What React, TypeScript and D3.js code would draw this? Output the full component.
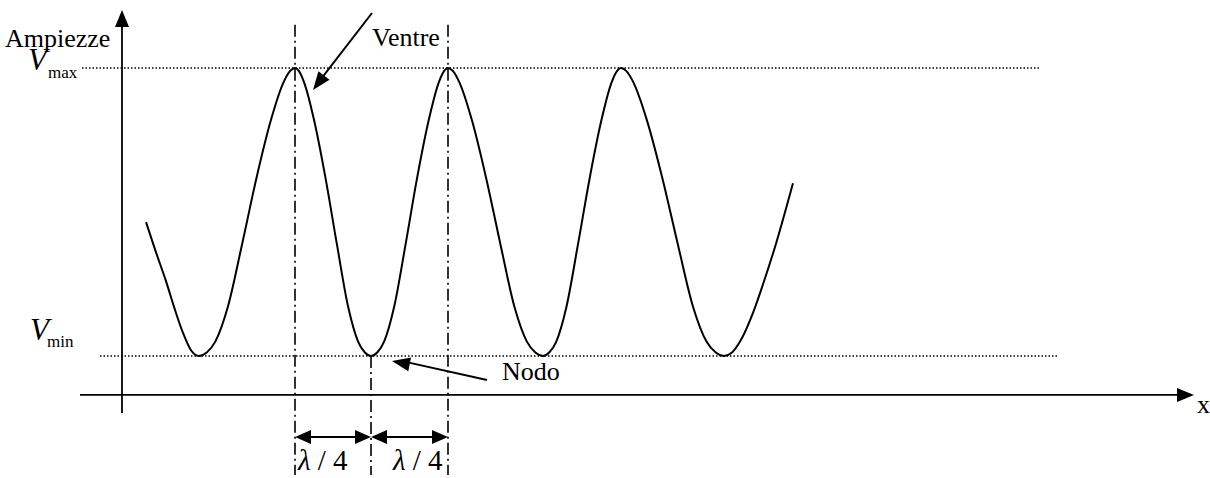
import React from "react";
import * as d3 from "d3";

// Curve samples (x in arbitrary position units, y normalised: 0 = Vmin, 1 = Vmax)
const curveX = [
  2.4, 3.4, 4.4, 5.3, 6.1, 6.9, 7.7,
  8.47, 9.33, 10.58, 12.02, 13.46, 14.9, 16.15, 16.82, 17.3,
  17.68, 18.21, 19.2, 20.34, 21.48, 22.62, 23.61, 24.29, 24.9,
  25.52, 26.21, 27.21, 28.37, 29.52, 30.68, 31.68, 32.22, 32.6,
  33.08, 33.74, 34.98, 36.4, 37.83, 39.25, 40.49, 41.34, 42.1,
  42.72, 43.43, 44.44, 45.61, 46.78, 47.95, 48.96, 49.51, 49.9,
  50.42, 51.14, 52.48, 54.02, 55.57, 57.11, 58.45, 59.38, 60.2,
  61.0, 61.8, 63.1, 64.3, 65.4, 67.1,
];
const curveY = [
  0.465, 0.36, 0.26, 0.16, 0.08, 0.02, 0,
  0.012, 0.05, 0.17, 0.39, 0.62, 0.82, 0.95, 0.99, 1,
  0.99, 0.95, 0.82, 0.62, 0.39, 0.17, 0.05, 0.012, 0,
  0.012, 0.05, 0.17, 0.39, 0.62, 0.82, 0.95, 0.99, 1,
  0.99, 0.95, 0.82, 0.62, 0.39, 0.17, 0.05, 0.012, 0,
  0.012, 0.05, 0.17, 0.39, 0.62, 0.82, 0.95, 0.99, 1,
  0.99, 0.95, 0.82, 0.62, 0.39, 0.17, 0.05, 0.012, 0,
  0.012, 0.05, 0.15, 0.27, 0.39, 0.6,
];

// Reference positions
const ventri = [17.3, 32.6]; // antinodes marked
const nodo = 24.9; // node marked
const vmaxLine = [-4.0, 91.9];
const vminLine = [-2.2, 93.5];
const xAxisExtent = [-4.2, 107.2];
const yAxisExtent = [-0.198, 1.201];
const xAxisLevel = -0.135;
const dimLevel = -0.281;
const guideTop = 1.15;
const guideBottom = -0.413;
const lambdaLabelX = [17.6, 27.1];
const labels = {
  ampiezze: "Ampiezze",
  ventre: "Ventre",
  nodo: "Nodo",
  x: "x",
  lambda: "λ",
  quarter: " / 4",
};

const W = 1210;
const H = 478;
const FONT = "'Liberation Serif', 'Times New Roman', serif";

function arrowHead(
  tip: [number, number],
  from: [number, number],
  len: number,
  hw: number
) {
  const dx = tip[0] - from[0];
  const dy = tip[1] - from[1];
  const d = Math.hypot(dx, dy);
  const ux = dx / d;
  const uy = dy / d;
  const bx = tip[0] - ux * len;
  const by = tip[1] - uy * len;
  const px = -uy;
  const py = ux;
  return `${tip[0]},${tip[1]} ${bx + px * hw},${by + py * hw} ${bx - px * hw},${by - py * hw}`;
}

export default function App() {
  const x = d3.scaleLinear().domain([0, 107.2]).range([122, 1194]);
  const y = d3.scaleLinear().domain([0, 1]).range([356, 68]);

  const pts: [number, number][] = curveX.map((v, i) => [v, curveY[i]]);
  const line = d3
    .line<[number, number]>()
    .x((d) => x(d[0]))
    .y((d) => y(d[1]))
    .curve(d3.curveMonotoneX);

  const ax0: [number, number] = [x(0), y(yAxisExtent[0])];
  const ax1: [number, number] = [x(0), y(yAxisExtent[1])];
  const xx0: [number, number] = [x(xAxisExtent[0]), y(xAxisLevel)];
  const xx1: [number, number] = [x(xAxisExtent[1]), y(xAxisLevel)];

  const ventreTail: [number, number] = [x(25.0), y(1.191)];
  const ventreTip: [number, number] = [x(19.1), y(0.924)];
  const nodoTail: [number, number] = [x(36.5), y(-0.083)];
  const nodoTip: [number, number] = [x(27.0), y(-0.017)];

  const dims: [number, number][] = [
    [ventri[0], nodo],
    [nodo, ventri[1]],
  ];

  const dashDot = "12,4,2,4";

  return (
    <svg
      width={W}
      height={H}
      style={{ position: "absolute", left: 0, top: 0, background: "#fff" }}
      fontFamily={FONT}
    >
      <rect width={W} height={H} fill="#fff" />
      {/* Vmax / Vmin dotted lines */}
      <line
        x1={x(vmaxLine[0])}
        x2={x(vmaxLine[1])}
        y1={y(1)}
        y2={y(1)}
        stroke="#000"
        strokeWidth={1.4}
        strokeDasharray="1.5,2"
      />
      <line
        x1={x(vminLine[0])}
        x2={x(vminLine[1])}
        y1={y(0)}
        y2={y(0)}
        stroke="#000"
        strokeWidth={1.4}
        strokeDasharray="1.5,2"
      />
      {/* Axes */}
      <line x1={ax0[0]} y1={ax0[1]} x2={ax1[0]} y2={ax1[1] + 10} stroke="#000" strokeWidth={1.8} />
      <polygon points={arrowHead(ax1, ax0, 17, 7)} fill="#000" />
      <line x1={xx0[0]} y1={xx0[1]} x2={xx1[0] - 10} y2={xx1[1]} stroke="#000" strokeWidth={1.8} />
      <polygon points={arrowHead(xx1, xx0, 17, 7)} fill="#000" />

      {/* Dash-dot guides */}
      {ventri.map((v, i) => (
        <line
          key={"g" + i}
          x1={x(v)}
          x2={x(v)}
          y1={y(guideTop)}
          y2={y(guideBottom)}
          stroke="#000"
          strokeWidth={1.6}
          strokeDasharray={dashDot}
        />
      ))}
      <line
        x1={x(nodo)}
        x2={x(nodo)}
        y1={y(0)}
        y2={y(guideBottom)}
        stroke="#000"
        strokeWidth={1.6}
        strokeDasharray={dashDot}
      />

      {/* Curve */}
      <path d={line(pts) || ""} fill="none" stroke="#000" strokeWidth={2} strokeLinejoin="round" />

      {/* Dimension arrows */}
      {dims.map((d, i) => {
        const a: [number, number] = [x(d[0]), y(dimLevel)];
        const b: [number, number] = [x(d[1]), y(dimLevel)];
        return (
          <g key={"d" + i}>
            <line x1={a[0] + 8} y1={a[1]} x2={b[0] - 8} y2={b[1]} stroke="#000" strokeWidth={2} />
            <polygon points={arrowHead(a, b, 16, 7)} fill="#000" />
            <polygon points={arrowHead(b, a, 16, 7)} fill="#000" />
          </g>
        );
      })}

      {/* Ventre arrow */}
      <line
        x1={ventreTail[0]}
        y1={ventreTail[1]}
        x2={ventreTip[0] + 5}
        y2={ventreTip[1] - 7}
        stroke="#000"
        strokeWidth={2}
      />
      <polygon points={arrowHead(ventreTip, ventreTail, 18, 7)} fill="#000" />
      {/* Nodo arrow */}
      <line
        x1={nodoTail[0]}
        y1={nodoTail[1]}
        x2={nodoTip[0] + 9}
        y2={nodoTip[1]}
        stroke="#000"
        strokeWidth={2}
      />
      <polygon points={arrowHead(nodoTip, nodoTail, 18, 7)} fill="#000" />

      {/* Texts */}
      <text x={x(-11.7)} y={y(1.073)} fontSize={26}>
        {labels.ampiezze}
      </text>
      <text x={x(-9.4)} y={y(0.993)} fontSize={31} fontStyle="italic">
        V
      </text>
      <text x={x(-7.4)} y={y(0.965)} fontSize={17}>
        max
      </text>
      <text x={x(-9.2)} y={y(0.055)} fontSize={31} fontStyle="italic">
        V
      </text>
      <text x={x(-7.5)} y={y(0.031)} fontSize={17}>
        min
      </text>
      <text x={x(25.0)} y={y(1.076)} fontSize={26}>
        {labels.ventre}
      </text>
      <text x={x(38.0)} y={y(-0.083)} fontSize={26}>
        {labels.nodo}
      </text>
      <text x={x(107.5)} y={y(-0.198)} fontSize={26}>
        {labels.x}
      </text>
      {lambdaLabelX.map((v, i) => (
        <text key={"l" + i} x={x(v)} y={y(-0.396)} fontSize={29} xmlSpace="preserve">
          <tspan fontStyle="italic">{labels.lambda}</tspan>
          <tspan>{labels.quarter}</tspan>
        </text>
      ))}
    </svg>
  );
}
